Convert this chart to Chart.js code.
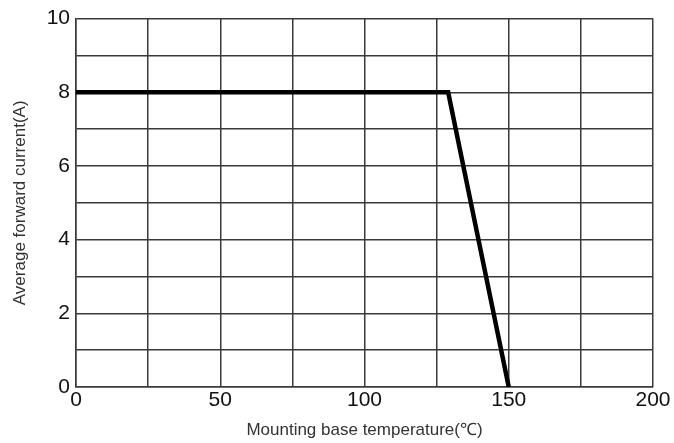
<!DOCTYPE html>
<html>
<head>
<meta charset="utf-8">
<script src="https://cdn.jsdelivr.net/npm/chart.js@4/dist/chart.umd.min.js"></script>
<style>
  html, body { margin: 0; padding: 0; background: #fff; }
  .chart-frame { width: 674px; height: 443px; }
</style>
</head>
<body>
<div class="chart-frame"><canvas id="derating"></canvas></div>
<script>
// derating curve
const temperature = [0, 129, 150];
const current = [8, 8, 0];
const xLabelled = [0, 50, 100, 150, 200];
const yLabelled = [0, 2, 4, 6, 8, 10];

const gridColor = "#3a3a3a";
const font = "'Liberation Sans', Arial, sans-serif";

new Chart(document.getElementById("derating"), {
  type: "line",
  data: {
    datasets: [{
      label: "Average forward current",
      data: temperature.map((t, i) => ({ x: t, y: current[i] })),
      borderColor: "#000",
      borderWidth: 4.5,
      pointRadius: 0,
      tension: 0,
      fill: false
    }]
  },
  options: {
    responsive: true,
    maintainAspectRatio: false,
    animation: false,
    layout: { padding: { top: 17, right: 21, left: 0, bottom: 0 } },
    plugins: { legend: { display: false }, tooltip: { enabled: false } },
    scales: {
      x: {
        type: "linear",
        min: 0,
        max: 200,
        ticks: {
          stepSize: 25,
          padding: 1,
          color: "#111",
          font: { family: font, size: 21 },
          callback: (v) => (xLabelled.includes(v) ? String(v) : "")
        },
        grid: { color: gridColor, lineWidth: 1.5, drawTicks: false },
        border: { color: gridColor, width: 1.5 },
        title: {
          display: true,
          text: "Mounting base temperature(℃)",
          color: "#333",
          font: { family: font, size: 17 },
          padding: { top: 0, bottom: 2 }
        },
        afterFit: (scale) => { scale.height = 56; }
      },
      y: {
        min: 0,
        max: 10,
        ticks: {
          stepSize: 1,
          padding: 6,
          color: "#111",
          font: { family: font, size: 21 },
          callback: (v) => (yLabelled.includes(v) ? String(v) : "")
        },
        grid: { color: gridColor, lineWidth: 1.5, drawTicks: false },
        border: { color: gridColor, width: 1.5 },
        title: {
          display: true,
          text: "Average forward current(A)",
          color: "#333",
          font: { family: font, size: 17 },
          padding: { top: 10, bottom: 0 }
        },
        afterFit: (scale) => { scale.width = 76; }
      }
    }
  }
});
</script>
</body>
</html>
